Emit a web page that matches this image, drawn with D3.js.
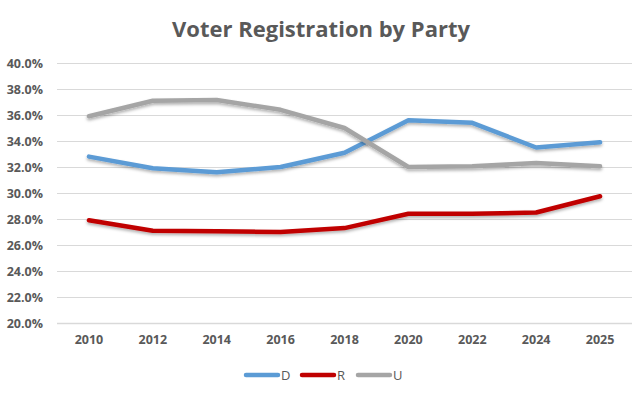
<!DOCTYPE html>
<html>
<head>
<meta charset="utf-8">
<script src="https://cdn.jsdelivr.net/npm/d3@7"></script>
<style>
  body { margin: 0; background: #fff; }
  text { font-family: "Open Sans", "Noto Sans", sans-serif; fill: #595959; }
</style>
</head>
<body>
<div id="chart"></div>
<script>
// Data
const years = ['2010', '2012', '2014', '2016', '2018', '2020', '2022', '2024', '2025'];
const dValues = [32.8, 31.9, 31.6, 32.0, 33.1, 35.6, 35.4, 33.5, 33.9];
const rValues = [27.9, 27.1, 27.05, 27.0, 27.3, 28.4, 28.4, 28.5, 29.75];
const uValues = [35.9, 37.1, 37.15, 36.4, 35.0, 32.0, 32.05, 32.3, 32.05];
const yTicks = [20, 22, 24, 26, 28, 30, 32, 34, 36, 38, 40];

const series = [
    { name: 'D', values: dValues, color: '#5B9BD5' },
    { name: 'R', values: rValues, color: '#C00000' },
    { name: 'U', values: uValues, color: '#A5A5A5' }
];

const width = 642, height = 395;
const margin = { top: 63, right: 10, bottom: 72, left: 57 };

const svg = d3.select('#chart').append('svg')
    .attr('width', width)
    .attr('height', height);

// Shadow like the spreadsheet lines
const defs = svg.append('defs');
const shadow = defs.append('filter').attr('id', 'shadow')
    .attr('x', '-5%').attr('y', '-20%').attr('width', '110%').attr('height', '140%');
shadow.append('feDropShadow')
    .attr('dx', 0).attr('dy', 2).attr('stdDeviation', 1.5)
    .attr('flood-color', '#000').attr('flood-opacity', 0.3);

// Scales
const x = d3.scaleBand()
    .domain(years)
    .range([margin.left, width - margin.right]);

const y = d3.scaleLinear()
    .domain([20, 40])
    .range([height - margin.bottom, margin.top]);

// Title
svg.append('text')
    .attr('x', 321)
    .attr('y', 37)
    .attr('text-anchor', 'middle')
    .style('font-size', '22px')
    .style('font-weight', 'bold')
    .text('Voter Registration by Party');

// Gridlines
svg.append('g')
    .selectAll('line')
    .data(yTicks)
    .join('line')
        .attr('x1', margin.left)
        .attr('x2', width - margin.right)
        .attr('y1', d => Math.round(y(d)) + 0.5)
        .attr('y2', d => Math.round(y(d)) + 0.5)
        .attr('stroke', '#D9D9D9')
        .attr('stroke-width', d => d === 20 ? 1.5 : 1);

// Y axis labels
const yAxis = svg.append('g')
    .attr('transform', `translate(${margin.left}, 0)`)
    .call(d3.axisLeft(y).tickValues(yTicks).tickFormat(d => d.toFixed(1) + '%').tickSize(0).tickPadding(14));
yAxis.select('.domain').remove();
yAxis.selectAll('text')
    .style('font-size', '12.5px')
    .style('font-weight', 'bold')
    .attr('fill', '#595959');

// X axis labels
const xAxis = svg.append('g')
    .attr('transform', `translate(0, ${y(20)})`)
    .call(d3.axisBottom(x).tickSize(0).tickPadding(12));
xAxis.select('.domain').remove();
xAxis.selectAll('text')
    .style('font-size', '12.5px')
    .style('font-weight', 'bold')
    .attr('fill', '#595959');

// Lines
const line = d3.line()
    .x((d, i) => x(years[i]) + x.bandwidth() / 2)
    .y(d => y(d));

svg.append('g')
    .selectAll('path')
    .data(series)
    .join('path')
        .attr('d', d => line(d.values))
        .attr('fill', 'none')
        .attr('stroke', d => d.color)
        .attr('stroke-width', 4.5)
        .attr('stroke-linejoin', 'round')
        .attr('stroke-linecap', 'round')
        .attr('filter', 'url(#shadow)');

// Legend
const legend = svg.append('g')
    .attr('transform', 'translate(244, 375)');

const legendItem = legend.selectAll('g')
    .data(series)
    .join('g')
        .attr('transform', (d, i) => `translate(${i * 56}, 0)`);

legendItem.append('line')
    .attr('x1', 2).attr('x2', 34)
    .attr('stroke', d => d.color)
    .attr('stroke-width', 4.5)
    .attr('stroke-linecap', 'round');

legendItem.append('text')
    .attr('x', 37)
    .attr('dy', '0.35em')
    .style('font-size', '13px')
    .text(d => d.name);
</script>
</body>
</html>
